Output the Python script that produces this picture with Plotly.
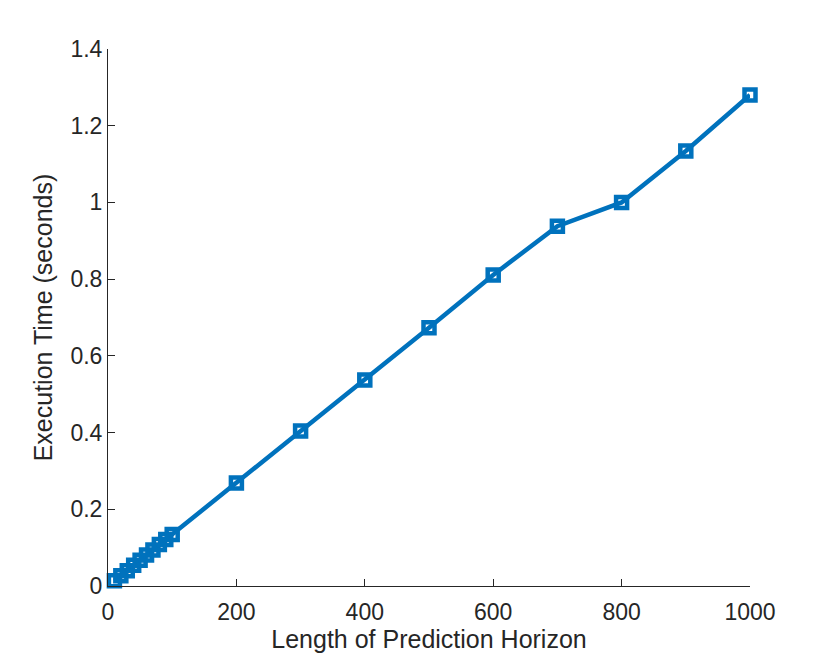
import plotly.graph_objects as go

horizon = [10, 20, 30, 40, 50, 60, 70, 80, 90, 100,
           200, 300, 400, 500, 600, 700, 800, 900, 1000]
exec_time = [0.0135, 0.027, 0.040, 0.054, 0.067, 0.081, 0.094, 0.108, 0.121, 0.134,
             0.2685, 0.404, 0.537, 0.673, 0.811, 0.938, 1.0, 1.134, 1.28]

blue = "#0072BD"
axcol = "#262626"

fig = go.Figure()
fig.add_trace(go.Scatter(
    x=horizon, y=exec_time, mode="lines+markers",
    line=dict(color=blue, width=4.5),
    marker=dict(symbol="square-open", size=11, color=blue, line=dict(width=4.5, color=blue)),
    showlegend=False, cliponaxis=False,
))

# page body has an 8px margin, so offsets are shifted by 8
fig.update_layout(
    width=830, height=658,
    margin=dict(l=100, r=88, t=41, b=80),
    paper_bgcolor="white", plot_bgcolor="white",
    font=dict(family="Liberation Sans, Arial, sans-serif", size=23, color=axcol),
)
fig.update_xaxes(
    range=[0, 1000], tickvals=[0, 200, 400, 600, 800, 1000],
    tickfont=dict(size=23), ticklabelstandoff=5,
    showgrid=False, zeroline=False, showline=True, linecolor=axcol, linewidth=1,
    ticks="inside", ticklen=7, tickcolor=axcol,
    title=dict(text="Length of Prediction Horizon", font=dict(size=25), standoff=6),
)
fig.update_yaxes(
    range=[0, 1.4], tickvals=[0, 0.2, 0.4, 0.6, 0.8, 1, 1.2, 1.4],
    ticktext=["0", "0.2", "0.4", "0.6", "0.8", "1", "1.2", "1.4"],
    tickfont=dict(size=23),
    showgrid=False, zeroline=False, showline=True, linecolor=axcol, linewidth=1,
    ticks="inside", ticklen=7, tickcolor=axcol,
    title=dict(text="Execution Time (seconds)", font=dict(size=25), standoff=10),
)

fig.write_html("out.html")
